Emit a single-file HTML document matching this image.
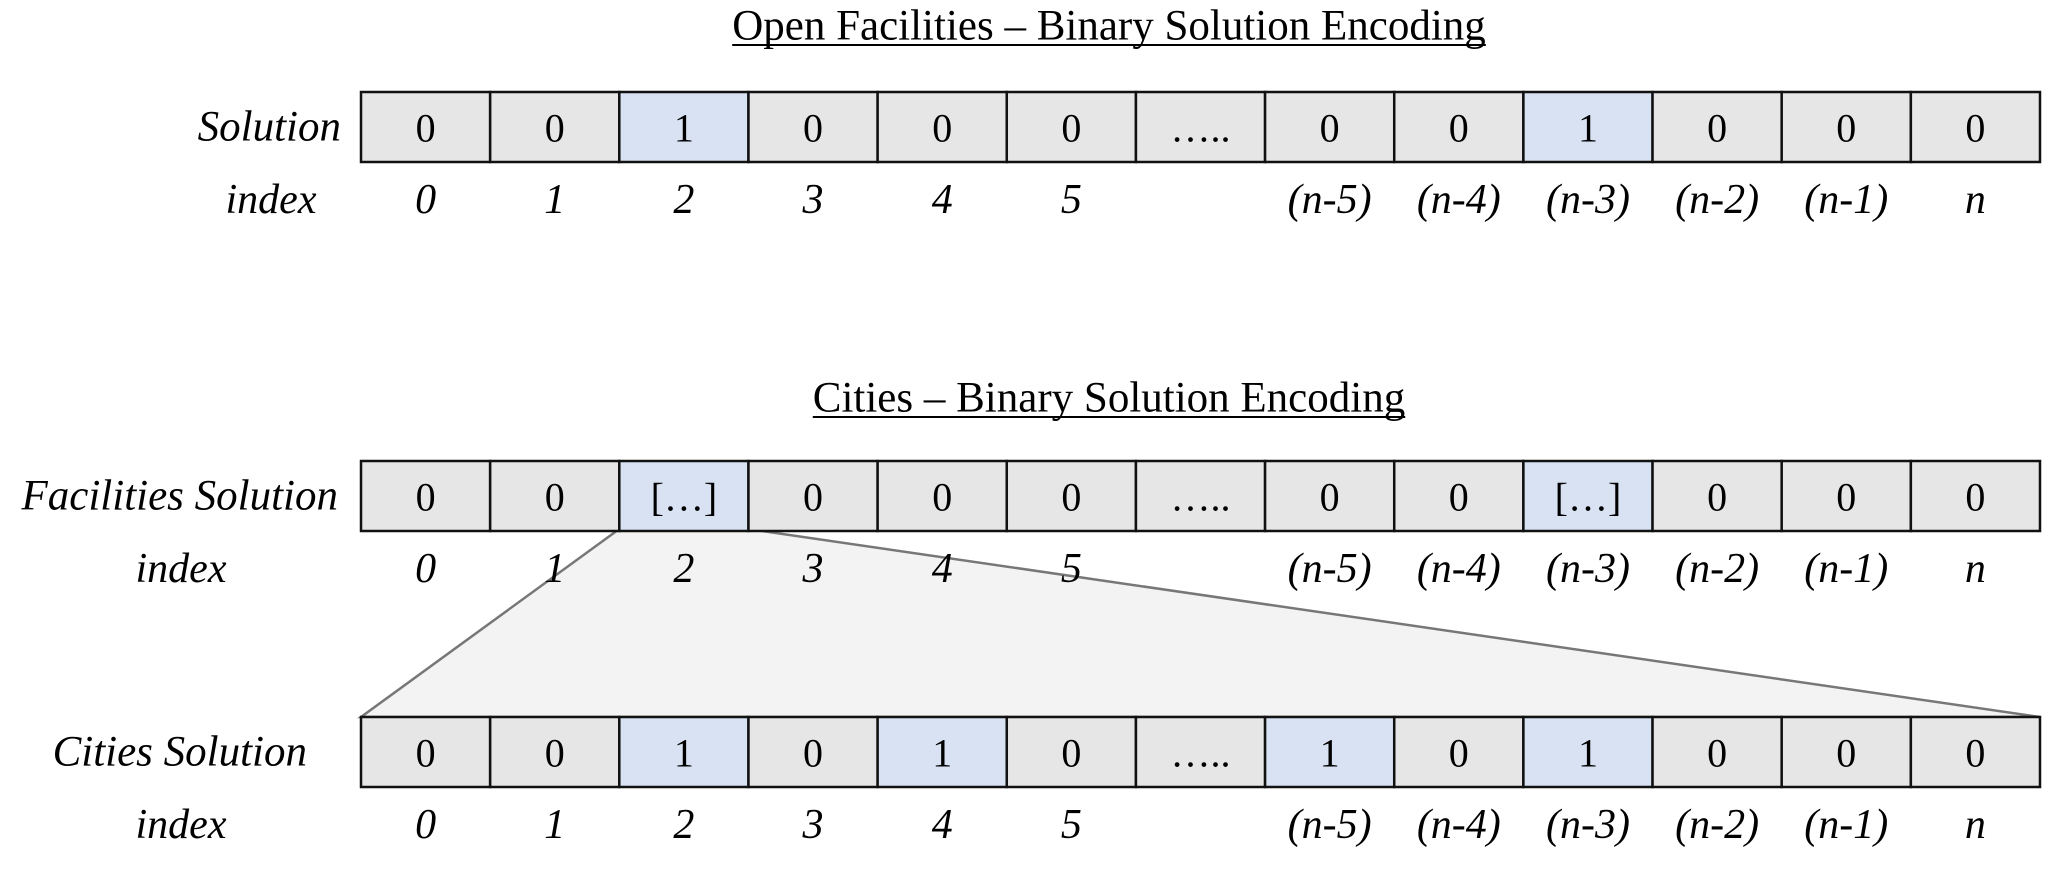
<!DOCTYPE html>
<html><head><meta charset="utf-8"><style>
html,body{margin:0;padding:0;background:#fff}
svg text{font-family:"Liberation Serif",serif;fill:#000}
</style></head><body>
<svg width="2072" height="870" viewBox="0 0 2072 870" xmlns="http://www.w3.org/2000/svg">
<g id="root"></g>
</svg>
<script>
const indexLabels=["0","1","2","3","4","5","","(n-5)","(n-4)","(n-3)","(n-2)","(n-1)","n"];
const row1Values=["0","0","1","0","0","0","…..","0","0","1","0","0","0"];
const row2Values=["0","0","[…]","0","0","0","…..","0","0","[…]","0","0","0"];
const row3Values=["0","0","1","0","1","0","…..","1","0","1","0","0","0"];
const row1High=[2,9];
const row2High=[2,9];
const row3High=[2,4,7,9];
const NS="http://www.w3.org/2000/svg";
const root=document.getElementById('root');
const X0=361,X1=2040,CW=(X1-X0)/13;
function mk(tag,attrs,parent){const e=document.createElementNS(NS,tag);for(const k in attrs)e.setAttribute(k,attrs[k]);(parent||root).appendChild(e);return e;}
function txt(s,x,y,size,opts,parent){const t=mk('text',Object.assign({x:x,y:y,'font-size':size,'text-anchor':'middle','dominant-baseline':'central'},opts||{}),parent);t.textContent=s;return t;}

const tr=mk('polygon',{points:`${X0+2*CW},529 ${X0+3*CW},529 ${X1},717 ${X0},717`,fill:'#f3f3f3',stroke:'#777',"stroke-width":2.5});



function title(s,y,name){
  const g=mk('g',{});
  
  
  const t=txt(s,1109,y,43,{},g);
  const w=t.getComputedTextLength();
  mk('line',{x1:1109-w/2,x2:1109+w/2,y1:y+19,y2:y+19,stroke:'#000','stroke-width':2},g);
}
title('Open Facilities – Binary Solution Encoding',26,'title-open-facilities');
title('Cities – Binary Solution Encoding',398,'title-cities');

function row(name,label,labelX,idxX,top,vals,high){
  const g=mk('g',{});
  
  
  const H=70;
  vals.forEach((v,i)=>{
    const r=mk('rect',{x:X0+i*CW,y:top,width:CW,height:H,fill:high.includes(i)?'#d9e2f3':'#e6e6e6',stroke:'#111','stroke-width':2.5},g);
    
    
    const t=txt(v,X0+i*CW+CW/2,top+H/2+1,40,{},g);
    
    
  });
  const l=txt(label,labelX,top+H/2,43,{'text-anchor':'end','font-style':'italic'},g);
  
  
  const ix=txt('index',idxX,top+H+38,42,{'font-style':'italic'},g);
  
  
  indexLabels.forEach((s,i)=>{
    const t=txt(s,X0+i*CW+CW/2,top+H+38,42,{'font-style':'italic'},g);
    
    
  });
}
row('open-facilities-row','Solution',341,271,92,row1Values,row1High);
row('facilities-solution-row','Facilities Solution',338,181,461,row2Values,row2High);
row('cities-solution-row','Cities Solution',307,181,717,row3Values,row3High);
</script>
</body></html>
